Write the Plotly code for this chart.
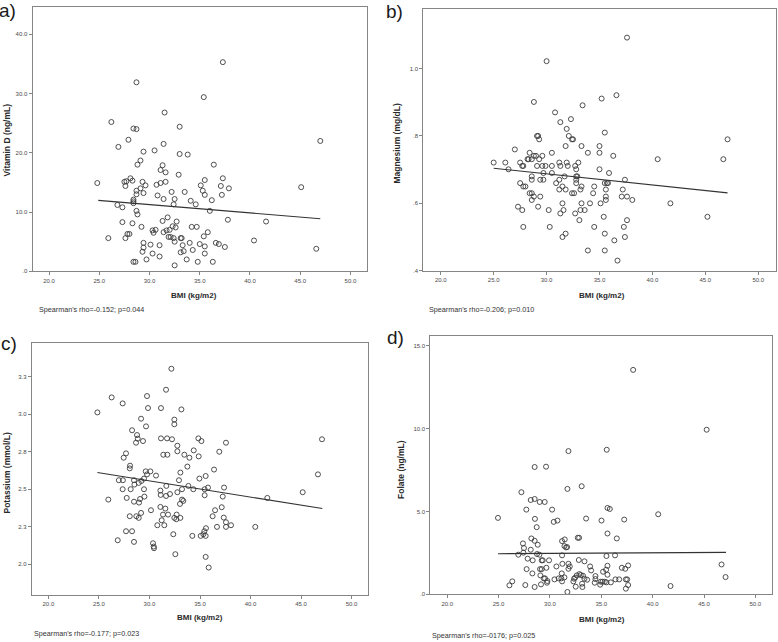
import plotly.graph_objects as go

# ---------------- data ----------------
bmi_a = [24.8, 26.2, 28.7, 37.3, 35.4, 31.5, 33.0, 28.4, 28.7, 26.9, 27.9, 29.4, 30.5, 31.4, 33.0, 33.8, 36.4, 29.1,
         28.8, 31.3, 31.1, 31.6, 32.9, 27.5, 27.7, 28.1, 28.3, 27.6, 29.3, 29.6, 29.1, 28.7, 28.7, 29.4, 30.7, 31.1,
         31.6, 30.8, 31.4, 32.2, 32.5, 33.5, 35.1, 35.3, 35.5, 35.5, 36.2, 37.3, 37.1, 37.2, 37.9, 45.1, 47.0, 28.4,
         28.4, 28.4, 26.8, 27.3, 28.7, 28.8, 34.1, 34.6, 32.4, 36.0, 37.8, 41.6, 27.3, 28.3, 31.3, 31.8, 32.7, 29.2,
         32.3, 32.6, 34.2, 34.7, 30.3, 30.6, 30.4, 31.4, 31.7, 32.0, 27.8, 28.0, 27.6, 25.9, 31.9, 32.1, 32.4, 32.5,
         33.1, 33.2, 35.4, 35.8, 31.0, 29.4, 30.1, 29.4, 29.3, 30.3, 31.0, 33.3, 33.4, 33.1, 34.0, 34.3, 35.0, 35.5,
         35.5, 36.6, 36.9, 37.5, 40.4, 46.6, 29.7, 33.7, 28.4, 28.6, 34.8, 36.3, 32.5]
vitamin_d = [14.9, 25.2, 31.9, 35.3, 29.4, 26.8, 24.4, 24.1, 24.0, 21.0, 22.2, 20.2, 20.4, 21.5, 19.8, 19.7, 18.0, 18.7,
             18.0, 17.9, 17.1, 16.7, 16.3, 15.1, 15.2, 15.7, 15.3, 14.4, 15.1, 14.5, 14.0, 13.6, 13.0, 13.2, 14.6, 14.9,
             15.1, 12.8, 12.2, 13.4, 12.2, 13.4, 14.5, 13.6, 15.4, 12.9, 12.0, 15.7, 14.4, 12.9, 14.0, 14.2, 22.0, 12.1,
             11.8, 11.5, 11.2, 10.8, 10.2, 9.6, 11.9, 11.3, 11.3, 10.2, 8.7, 8.4, 8.3, 8.1, 8.5, 9.1, 8.4, 7.5,
             7.6, 7.4, 7.5, 7.5, 6.9, 7.0, 6.5, 6.6, 6.9, 7.0, 6.3, 6.3, 5.6, 5.6, 5.8, 5.8, 5.6, 5.0,
             5.6, 5.6, 5.9, 6.6, 4.4, 4.8, 4.5, 4.0, 3.3, 3.0, 2.5, 4.4, 3.4, 3.2, 4.8, 3.6, 4.6, 4.2,
             3.0, 4.8, 4.6, 4.1, 5.2, 3.8, 2.0, 2.0, 1.6, 1.6, 1.6, 1.6, 1.0]
fit_a_x = [24.9, 47.0]
fit_a_y = [11.97, 8.88]

bmi_b = [25.0, 26.1, 26.4, 27.0, 27.5, 27.7, 27.8, 27.5, 27.8, 28.0, 27.3, 27.7, 27.8, 28.2, 28.3, 28.4, 28.6, 28.8,
         29.0, 28.6, 28.6, 28.4, 28.6, 28.8, 28.6, 28.8, 29.1, 29.2, 29.3, 29.3, 29.1, 29.4, 29.2, 29.4, 29.6, 29.6,
         29.9, 29.7, 29.7, 30.0, 30.5, 30.5, 30.5, 30.2, 30.3, 30.8, 31.3, 31.2, 31.3, 30.9, 31.2, 31.2, 31.3, 31.5,
         31.5, 31.6, 31.8, 31.5, 31.7, 31.8, 31.8, 31.9, 31.9, 32.0, 32.1, 32.3, 32.4, 32.5, 32.4, 32.6, 32.7, 32.7,
         32.8, 32.9, 32.8, 32.8, 32.8, 33.0, 33.2, 33.3, 33.2, 33.1, 33.3, 33.3, 33.4, 33.6, 33.9, 33.9, 34.1, 34.4,
         34.5, 34.5, 35.0, 35.0, 35.0, 35.1, 35.2, 35.4, 35.5, 35.5, 35.6, 35.7, 35.8, 35.6, 35.6, 35.5, 35.5, 35.9,
         36.3, 36.6, 36.4, 36.7, 37.1, 37.2, 37.4, 37.3, 37.4, 37.6, 37.6, 37.6, 38.1, 40.5, 41.7, 45.2, 46.7, 47.1]
magnesium = [0.721, 0.721, 0.701, 0.760, 0.721, 0.711, 0.711, 0.660, 0.650, 0.650, 0.590, 0.580, 0.530, 0.731, 0.731,
             0.750, 0.731, 0.741, 0.741, 0.680, 0.670, 0.630, 0.630, 0.620, 0.610, 0.901, 0.800, 0.800, 0.790, 0.731,
             0.711, 0.620, 0.590, 0.670, 0.741, 0.711, 0.711, 0.690, 0.670, 1.022, 0.750, 0.711, 0.690, 0.580, 0.530,
             0.870, 0.841, 0.721, 0.711, 0.660, 0.670, 0.641, 0.570, 0.600, 0.500, 0.580, 0.510, 0.650, 0.680, 0.641,
             0.770, 0.821, 0.721, 0.711, 0.800, 0.850, 0.790, 0.790, 0.630, 0.630, 0.570, 0.711, 0.680, 0.680, 0.701,
             0.670, 0.660, 0.721, 0.641, 0.770, 0.580, 0.550, 0.650, 0.600, 0.891, 0.580, 0.750, 0.460, 0.600, 0.630,
             0.650, 0.530, 0.770, 0.750, 0.701, 0.600, 0.911, 0.560, 0.810, 0.660, 0.641, 0.660, 0.660, 0.620, 0.610,
             0.510, 0.460, 0.690, 0.741, 0.921, 0.490, 0.430, 0.620, 0.641, 0.670, 0.530, 0.500, 0.620, 0.550, 1.092,
             0.610, 0.731, 0.600, 0.560, 0.731, 0.790]
fit_b_x = [25.0, 47.1]
fit_b_y = [0.704, 0.631]

bmi_c = [24.85, 26.26, 27.35, 32.17, 31.64, 29.76, 29.86, 31.14, 33.16, 29.17, 32.46, 32.46, 29.66, 28.28, 28.77,
         28.84, 28.67, 29.36, 31.14, 31.74, 32.23, 34.84, 35.14, 37.57, 47.07, 32.76, 32.76, 31.37, 31.77, 33.45,
         33.95, 34.38, 34.87, 36.91, 27.68, 27.45, 28.08, 28.05, 29.63, 29.76, 30.09, 30.65, 29.46, 29.20, 28.47,
         28.51, 28.94, 26.97, 27.37, 27.35, 28.14, 29.46, 29.50, 29.07, 28.97, 28.47, 27.75, 25.93, 28.05, 28.70,
         28.94, 29.17, 27.68, 28.28, 26.86, 28.47, 30.35, 30.42, 30.45, 30.15, 30.78, 31.08, 31.11, 31.08, 31.21,
         31.34, 31.47, 31.64, 31.57, 31.67, 31.84, 32.03, 32.36, 32.56, 32.46, 32.69, 32.66, 33.06, 32.76, 32.92,
         33.06, 33.02, 33.22, 33.22, 33.35, 33.75, 33.85, 34.34, 34.24, 34.94, 35.46, 35.46, 35.56, 35.79, 35.07,
         35.33, 35.43, 35.59, 35.56, 35.56, 35.86, 36.25, 36.39, 36.49, 36.68, 37.15, 37.25, 37.38, 37.35, 37.57,
         37.57, 38.07, 40.47, 41.66, 45.16, 46.67]
potassium = [3.012, 3.112, 3.072, 3.303, 3.163, 3.121, 3.041, 3.041, 3.032, 2.970, 2.964, 2.933, 2.919, 2.893, 2.861,
             2.837, 2.810, 2.821, 2.839, 2.839, 2.833, 2.839, 2.821, 2.810, 2.833, 2.790, 2.753, 2.730, 2.730, 2.730,
             2.710, 2.759, 2.719, 2.750, 2.739, 2.710, 2.657, 2.639, 2.619, 2.599, 2.619, 2.591, 2.571, 2.555, 2.560,
             2.531, 2.542, 2.560, 2.560, 2.500, 2.500, 2.500, 2.451, 2.435, 2.411, 2.417, 2.442, 2.431, 2.320, 2.320,
             2.309, 2.342, 2.220, 2.220, 2.160, 2.149, 2.140, 2.118, 2.107, 2.360, 2.260, 2.491, 2.462, 2.382, 2.293,
             2.331, 2.260, 2.455, 2.371, 2.522, 2.331, 2.468, 2.200, 2.067, 2.309, 2.331, 2.300, 2.309, 2.480, 2.560,
             2.611, 2.402, 2.500, 2.431, 2.422, 2.651, 2.522, 2.500, 2.189, 2.571, 2.500, 2.460, 2.588, 2.511, 2.189,
             2.200, 2.220, 2.240, 2.189, 2.049, 1.978, 2.320, 2.631, 2.360, 2.249, 2.380, 2.451, 2.511, 2.311, 2.280,
             2.249, 2.260, 2.249, 2.442, 2.480, 2.599]
fit_c_x = [24.85, 47.1]
fit_c_y = [2.611, 2.371]

bmi_d = [24.94, 26.92, 26.05, 26.33, 27.22, 27.37, 27.47, 27.41, 27.60, 27.70, 27.73, 27.83, 28.13, 28.19, 28.13,
         28.32, 28.29, 28.51, 28.51, 28.54, 28.51, 28.51, 28.71, 28.81, 28.74, 28.97, 29.00, 29.49, 29.62, 29.04,
         29.20, 29.07, 29.20, 29.30, 29.40, 29.52, 29.13, 29.65, 29.91, 29.71, 30.21, 30.37, 30.73, 29.75, 30.44,
         30.63, 30.85, 31.11, 31.18, 31.18, 31.44, 31.41, 31.57, 31.67, 31.21, 31.15, 31.18, 31.41, 31.70, 31.80,
         31.80, 31.80, 31.93, 31.70, 32.28, 32.35, 32.45, 32.61, 32.51, 32.71, 32.84, 32.81, 32.87, 33.00, 33.09,
         33.22, 33.36, 33.36, 33.13, 33.16, 33.52, 33.62, 33.91, 34.01, 34.43, 34.43, 34.36, 35.02, 34.89, 34.95,
         35.12, 35.34, 35.17, 35.47, 35.53, 35.60, 35.83, 35.60, 35.50, 35.60, 35.60, 35.50, 35.93, 36.34, 36.51,
         36.38, 36.74, 37.00, 37.23, 37.33, 37.39, 37.52, 37.61, 37.39, 37.61, 38.10, 40.54, 41.74, 45.26, 46.71,
         47.10]
folate = [4.61, 2.39, 0.54, 0.78, 6.16, 3.07, 2.79, 2.51, 0.56, 5.11, 1.52, 2.15, 5.69, 3.37, 2.69,
          2.05, 1.26, 5.75, 7.68, 4.55, 3.23, 0.44, 4.05, 2.99, 2.43, 2.39, 5.57, 5.57, 7.70, 1.52,
          1.52, 1.14, 2.05, 2.05, 0.96, 0.96, 0.60, 1.60, 2.05, 0.70, 5.11, 4.37, 4.45, 0.80, 0.90,
          1.68, 0.96, 0.96, 2.35, 3.21, 3.31, 2.91, 2.83, 2.85, 1.84, 1.26, 0.78, 1.02, 6.36, 8.64,
          1.84, 1.54, 1.68, 0.14, 0.78, 0.94, 1.00, 1.14, 0.46, 3.41, 3.41, 2.07, 1.22, 1.16, 6.52,
          1.12, 1.99, 0.94, 0.64, 0.44, 4.57, 0.88, 1.68, 1.44, 1.10, 0.92, 0.70, 4.45, 0.58, 0.76,
          0.76, 0.76, 1.36, 1.48, 8.72, 5.21, 5.15, 3.67, 2.31, 1.72, 1.18, 0.72, 0.72, 2.35, 3.37,
          0.90, 0.90, 1.60, 4.51, 1.54, 0.90, 0.90, 1.74, 0.34, 0.56, 13.54, 4.83, 0.50, 9.93, 1.80,
          1.04]
fit_d_x = [24.94, 47.14]
fit_d_y = [2.45, 2.53]

x_tickvals = [20, 25, 30, 35, 40, 45, 50]
x_ticktext = ["20.0", "25.0", "30.0", "35.0", "40.0", "45.0", "50.0"]
ya_tickvals = [0, 10, 20, 30, 40]
ya_ticktext = [".0", "10.0", "20.0", "30.0", "40.0"]
yb_tickvals = [0.4, 0.6, 0.8, 1.0]
yb_ticktext = [".4", ".6", ".8", "1.0"]
yc_tickvals = [2.0, 2.25, 2.5, 2.75, 3.0, 3.25]
yc_ticktext = ["2.0", "2.3", "2.5", "2.8", "3.0", "3.3"]
yd_tickvals = [0, 5, 10, 15]
yd_ticktext = [".0", "5.0", "10.0", "15.0"]

panel_letters = ["a)", "b)", "c)", "d)"]
y_titles = ["Vitamin D (ng/mL)", "Magnesium (mg/dL)", "Potassium (mmol/L)", "Folate (ng/mL)"]
x_title = "BMI (kg/m2)"
notes = ["Spearman's rho=-0.152; p=0.044", "Spearman's rho=-0.206; p=0.010",
         "Spearman's rho=-0.177; p=0.023", "Spearman's rho=-0176; p=0.025"]

# ---------------- layout geometry (pixels) ----------------
W, H = 778, 642
FONT = "Arial, Liberation Sans, sans-serif"
# (left, right, top, bottom) of each plot frame in pixels
frames = [(32.5, 367.0, 6.7, 271.3),
          (423.3, 775.7, 9.3, 270.7),
          (31.7, 368.3, 343.3, 595.0),
          (430.3, 772.3, 336.0, 594.3)]
y_ranges = [[0, 44.66], [0.4, 1.176], [1.795, 3.4726], [0, 15.585]]
x_range = [18.35, 51.65]

def px(x):
    return x / W

def py(y):
    return 1 - y / H

fig = go.Figure()

series = [(bmi_a, vitamin_d, fit_a_x, fit_a_y),
          (bmi_b, magnesium, fit_b_x, fit_b_y),
          (bmi_c, potassium, fit_c_x, fit_c_y),
          (bmi_d, folate, fit_d_x, fit_d_y)]
y_ticks = [(ya_tickvals, ya_ticktext), (yb_tickvals, yb_ticktext),
           (yc_tickvals, yc_ticktext), (yd_tickvals, yd_ticktext)]

frame_col = "#858585"
for i, (xs, ys, fx, fy) in enumerate(series):
    n = "" if i == 0 else str(i + 1)
    fig.add_trace(go.Scatter(x=xs, y=ys, mode="markers", xaxis="x" + n, yaxis="y" + n,
                             marker=dict(symbol="circle-open", size=5, color="#3c3c3c",
                                         line=dict(width=0.9, color="#3c3c3c")),
                             showlegend=False, hoverinfo="x+y"))
    fig.add_trace(go.Scatter(x=fx, y=fy, mode="lines", xaxis="x" + n, yaxis="y" + n,
                             line=dict(color="#333333", width=1.1), showlegend=False))
    l, r, t, b = frames[i]
    axis_common = dict(showgrid=False, zeroline=False, showline=True, linecolor=frame_col,
                       linewidth=1, mirror=True, ticks="outside", ticklen=3, tickwidth=1,
                       tickcolor=frame_col, automargin=False,
                       tickfont=dict(family=FONT, size=6, color="#4a4a4a"))
    fig.layout["xaxis" + n] = dict(domain=[px(l), px(r)], range=x_range, anchor="y" + n,
                                   tickvals=x_tickvals, ticktext=x_ticktext, **axis_common)
    fig.layout["yaxis" + n] = dict(domain=[py(b), py(t)], range=y_ranges[i], anchor="x" + n,
                                   tickvals=y_ticks[i][0], ticktext=y_ticks[i][1], **axis_common)

annotations = []
letter_pos = [(8, 11), (394, 11.5), (9, 343), (395, 337)]
ytitle_pos = [(6.5, 140), (396.5, 144), (6.5, 473), (401, 470)]
xtitle_pos = [(194, 295), (602, 295), (199.5, 617.5), (602, 619.5)]
note_pos = [(38, 310), (428, 310), (33, 633), (431, 635)]
for i in range(4):
    annotations.append(dict(text=panel_letters[i], x=px(letter_pos[i][0]), y=py(letter_pos[i][1]),
                            xref="paper", yref="paper", showarrow=False, xanchor="center", yanchor="middle",
                            font=dict(family=FONT, size=19, color="#1a1a1a")))
    annotations.append(dict(text="<b>" + y_titles[i] + "</b>", x=px(ytitle_pos[i][0]), y=py(ytitle_pos[i][1]),
                            xref="paper", yref="paper", showarrow=False, textangle=-90,
                            xanchor="center", yanchor="middle",
                            font=dict(family=FONT, size=8.5, color="#2a2a2a")))
    annotations.append(dict(text="<b>" + x_title + "</b>", x=px(xtitle_pos[i][0]), y=py(xtitle_pos[i][1]),
                            xref="paper", yref="paper", showarrow=False, xanchor="center", yanchor="middle",
                            font=dict(family=FONT, size=8, color="#2a2a2a")))
    annotations.append(dict(text=notes[i], x=px(note_pos[i][0]), y=py(note_pos[i][1]),
                            xref="paper", yref="paper", showarrow=False, xanchor="left", yanchor="middle",
                            borderpad=0,
                            font=dict(family=FONT, size=7.2, color="#333333")))

fig.update_layout(width=W, height=H, margin=dict(l=0, r=0, t=0, b=0, autoexpand=False),
                  paper_bgcolor="white", plot_bgcolor="white", annotations=annotations,
                  font=dict(family=FONT), hovermode=False)

fig.write_html("out.html", config={"displayModeBar": False},
               post_script="document.body.style.margin='0px';document.body.style.overflow='hidden';")
